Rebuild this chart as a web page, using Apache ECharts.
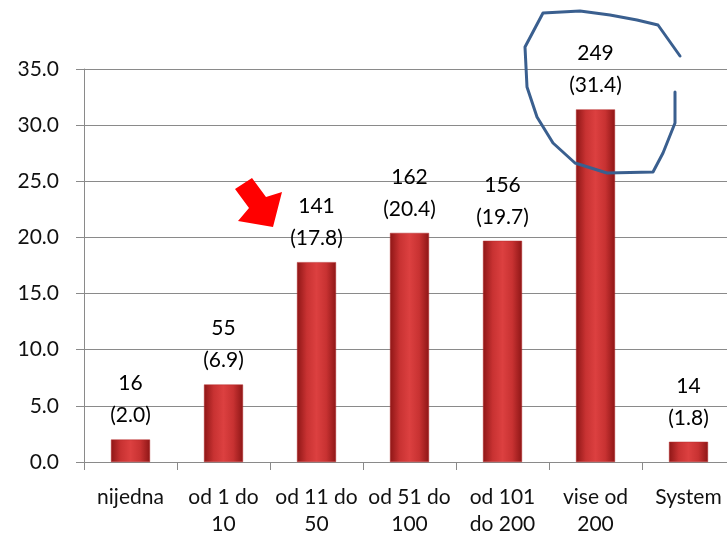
<!DOCTYPE html>
<html>
<head>
<meta charset="utf-8">
<script src="https://cdn.jsdelivr.net/npm/echarts@6/dist/echarts.min.js"></script>
<style>
html, body { margin: 0; padding: 0; background: #fff; }
#chart { width: 727px; height: 533px; }
</style>
</head>
<body>
<div id="chart"></div>
<script>
// data
var categories = ['nijedna', 'od 1 do\n10', 'od 11 do\n50', 'od 51 do\n100', 'od 101\ndo 200', 'vise od\n200', 'System'];
var counts = [16, 55, 141, 162, 156, 249, 14];
var percents = [2.0, 6.9, 17.8, 20.4, 19.7, 31.4, 1.8];
var yTicks = [0, 5, 10, 15, 20, 25, 30, 35];

var font = 'Lato, "Open Sans", sans-serif';

var mychart = echarts.init(document.getElementById('chart'));

var barColor = new echarts.graphic.LinearGradient(0, 0, 1, 0, [
    {offset: 0, color: '#8e1616'},
    {offset: 0.25, color: '#c83232'},
    {offset: 0.5, color: '#dc4040'},
    {offset: 0.75, color: '#c83232'},
    {offset: 1, color: '#8e1616'}
]);

var option = {
    animation: false,
    grid: {left: 84, top: 69, width: 651, height: 393, outerBoundsMode: 'none', containLabel: false},
    xAxis: {
        type: 'category',
        data: categories,
        axisLine: {lineStyle: {color: '#8a8a8a', width: 1}},
        axisTick: {show: true, length: 8, lineStyle: {color: '#8a8a8a'}},
        axisLabel: {
            color: '#111', fontFamily: font, fontSize: 21,
            lineHeight: 27, margin: 22, interval: 0
        }
    },
    yAxis: {
        type: 'value',
        min: yTicks[0],
        max: yTicks[yTicks.length - 1],
        interval: 5,
        axisLine: {show: true, lineStyle: {color: '#8a8a8a', width: 1}},
        axisTick: {show: true, length: 8, lineStyle: {color: '#8a8a8a'}},
        splitLine: {lineStyle: {color: '#8a8a8a', width: 1}},
        axisLabel: {
            color: '#111', fontFamily: font, fontSize: 21, margin: 25,
            formatter: function(v){ return v.toFixed(1); }
        }
    },
    series: [{
        type: 'bar',
        barWidth: 39,
        data: percents,
        itemStyle: {color: barColor, borderColor: '#b52a2a', borderWidth: 0.5},
        label: {
            show: true,
            position: 'top',
            distance: 8,
            color: '#000',
            fontFamily: font,
            fontSize: 21,
            lineHeight: 32,
            formatter: function(p){
                return counts[p.dataIndex] + '\n(' + percents[p.dataIndex].toFixed(1) + ')';
            }
        }
    }],
    graphic: [
        // red arrow annotation
        {
            type: 'polygon',
            z: 100,
            shape: {points: [[235,189],[252,178],[266,197],[282,192],[273,227],[238,221],[249,208]]},
            style: {fill: '#ff0000'}
        },
        // hand-drawn blue circle
        {
            type: 'polyline',
            z: 100,
            shape: {points: [[680,56],[658,25],[637,20],[610,15],[580,11],[543,13],[525,47],[527,87],[537,117],[553,143],[575,163],[607,173],[653,172],[663,153],[675,123],[675,92]]},
            style: {stroke: '#3a5f8f', lineWidth: 3, fill: null, lineJoin: 'round', lineCap: 'round'}
        }
    ]
};
mychart.setOption(option);
</script>
</body>
</html>
